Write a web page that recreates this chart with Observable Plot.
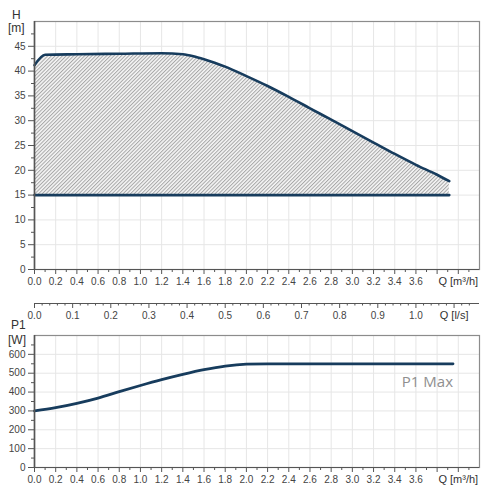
<!DOCTYPE html>
<html><head><meta charset="utf-8">
<script src="https://cdn.jsdelivr.net/npm/d3@7"></script>
<script src="https://cdn.jsdelivr.net/npm/@observablehq/plot@0.6"></script>
<style>
body{margin:0;background:#fff;font-family:"Liberation Sans",Arial,sans-serif;}
#wrap{position:relative;width:500px;height:500px;overflow:hidden;background:#fff;}
.panel{position:absolute;left:0;}
.lbl{position:absolute;font-size:12px;color:#333;line-height:1;font-family:"Liberation Sans",Arial,sans-serif;}
</style></head><body>
<div id="wrap"></div>
<script>
// ---- data ----
const headQ = [0, 0.1, 0.4, 0.8, 1.2, 1.4, 1.5, 1.6, 1.7, 1.8, 2.0, 2.2, 2.4, 2.6, 2.8, 3.0, 3.2, 3.4, 3.6, 3.8, 3.915];
const headH = [41.2, 43.3, 43.4, 43.5, 43.6, 43.4, 43.0, 42.4, 41.7, 40.9, 39.0, 37.0, 34.8, 32.5, 30.2, 27.9, 25.6, 23.3, 21.1, 19.1, 17.8];
const lowQ = [0, 3.915];
const lowH = [15, 15];
const powerQ = [0, 0.2, 0.4, 0.6, 0.8, 1.0, 1.2, 1.4, 1.6, 1.8, 2.0, 2.2, 3.95];
const powerP = [300, 317, 340, 368, 402, 435, 466, 494, 519, 538, 548, 550, 550];

const qLabelTicks = [0, 0.2, 0.4, 0.6, 0.8, 1.0, 1.2, 1.4, 1.6, 1.8, 2.0, 2.2, 2.4, 2.6, 2.8, 3.0, 3.2, 3.4, 3.6];
const qTickLabels = ["0.0","0.2","0.4","0.6","0.8","1.0","1.2","1.4","1.6","1.8","2.0","2.2","2.4","2.6","2.8","3.0","3.2","3.4","3.6"];
const qExtraTicks = [3.8, 4.0];
const qMinorTicks = [0.1, 0.3, 0.5, 0.7, 0.9, 1.1, 1.3, 1.5, 1.7, 1.9, 2.1, 2.3, 2.5, 2.7, 2.9, 3.1, 3.3, 3.5, 3.7, 3.9, 4.1];
const qUnitLabel = "Q [m³/h]";
const qUnitAt = 4.0;

const hTicks = [0, 5, 10, 15, 20, 25, 30, 35, 40, 45];
const hMinorTicks = [2.5, 7.5, 12.5, 17.5, 22.5, 27.5, 32.5, 37.5, 42.5, 47.5];

const lsTicks = [0, 0.1, 0.2, 0.3, 0.4, 0.5, 0.6, 0.7, 0.8, 0.9, 1.0];
const lsTickLabels = ["0.0","0.1","0.2","0.3","0.4","0.5","0.6","0.7","0.8","0.9","1.0"];
const lsUnitLabel = "Q [l/s]";
const lsUnitAt = 1.1;

const pTicks = [0, 100, 200, 300, 400, 500, 600];
const pMinorTicks = [50, 150, 250, 350, 450, 550, 650];
const pMaxLabel = "P1 Max";
const pMaxAt = {q: 3.95, p: 452};

// ---- build ----
const navy = "#173c5d";
const gridC = "#e6e6e6";
const axisC = "#555";
const headData = headQ.map((q, i) => ({q, h: headH[i]}));
const lowData = lowQ.map((q, i) => ({q, h: lowH[i]}));
const powerData = powerQ.map((q, i) => ({q, p: powerP[i]}));
const qLabelMap = new Map(qLabelTicks.map((t, i) => [t, qTickLabels[i]]));
const lsLabelMap = new Map(lsTicks.map((t, i) => [t, lsTickLabels[i]]));
const lsMinor = d3.range(0, 58).map(i => i * 0.02).filter(v => Math.abs(v * 10 - Math.round(v * 10)) > 1e-6);
const style = {fontFamily: "Liberation Sans, Arial, sans-serif", fontSize: "10px", color: "#444", background: "transparent", overflow: "visible"};
const gridQ = qLabelTicks.concat(qExtraTicks);

function qAxes() {
  return [
    Plot.axisX(qLabelTicks, {label: null, tickSize: 5, tickPadding: 3, stroke: axisC, tickFormat: d => qLabelMap.get(d)}),
    Plot.axisX(qExtraTicks, {label: null, tickSize: 5, stroke: axisC, tickFormat: () => ""}),
    Plot.axisX(qMinorTicks, {label: null, tickSize: 3, stroke: axisC, tickFormat: () => ""}),
    Plot.axisX([qUnitAt], {label: null, tickSize: 0, tickPadding: 8, tickFormat: () => qUnitLabel, fontSize: 11, fill: "#333"})
  ];
}

const topPlot = Plot.plot({
  width: 500, height: 290, marginLeft: 34, marginRight: 21, marginTop: 21, marginBottom: 21,
  x: {domain: [0, 4.2], label: null}, y: {domain: [0, 50], label: null}, style,
  marks: [
    Plot.gridX(gridQ, {stroke: gridC, strokeOpacity: 1}),
    Plot.gridY(hTicks, {stroke: gridC, strokeOpacity: 1}),
    Plot.frame({stroke: "#8c8c8c", strokeWidth: 1.2}),
    Plot.areaY(headData, {x: "q", y1: 15, y2: "h", fill: "url(#hatch)", curve: "monotone-x"}),
    Plot.line(headData, {x: "q", y: "h", stroke: navy, strokeWidth: 2.6, curve: "monotone-x"}),
    Plot.line(lowData, {x: "q", y: "h", stroke: navy, strokeWidth: 2.6}),
    Plot.ruleX([0], {stroke: axisC, strokeWidth: 1.6}),
    Plot.ruleY([0], {stroke: axisC, strokeWidth: 1.2}),
    ...qAxes(),
    Plot.axisY(hTicks, {label: null, tickSize: 6, tickPadding: 3, stroke: axisC, tickFormat: "d"}),
    Plot.axisY(hMinorTicks, {label: null, tickSize: 3, stroke: axisC, tickFormat: () => ""})
  ]
});
d3.select(topPlot).insert("defs", ":first-child").html(
  '<pattern id="hatch" patternUnits="userSpaceOnUse" width="2.6" height="2.6" patternTransform="rotate(45)">' +
  '<rect width="2.6" height="2.6" fill="#f5f5f5"/>' +
  '<line x1="0.5" y1="0" x2="0.5" y2="2.6" stroke="#a6a6a6" stroke-width="1"/></pattern>');

const lsPlot = Plot.plot({
  width: 500, height: 32, marginLeft: 34, marginRight: 21, marginTop: 2, marginBottom: 19,
  x: {domain: [0, 4.2 / 3.6], label: null}, y: {domain: [0, 1], axis: null}, style,
  marks: [
    Plot.ruleY([0], {stroke: axisC, strokeWidth: 1.2}),
    Plot.axisX(lsTicks, {label: null, tickSize: 5, tickPadding: 3, stroke: axisC, tickFormat: d => lsLabelMap.get(d)}),
    Plot.axisX(lsMinor, {label: null, tickSize: 2.5, stroke: axisC, tickFormat: () => ""}),
    Plot.axisX([lsUnitAt], {label: null, tickSize: 5, tickPadding: 3, stroke: axisC, tickFormat: () => lsUnitLabel, fontSize: 11, fill: "#333"})
  ]
});

const botPlot = Plot.plot({
  width: 500, height: 178, marginLeft: 34, marginRight: 21, marginTop: 13, marginBottom: 33,
  x: {domain: [0, 4.2], label: null}, y: {domain: [0, 700], label: null}, style,
  marks: [
    Plot.gridX(gridQ, {stroke: gridC, strokeOpacity: 1}),
    Plot.gridY(pTicks.concat([700]), {stroke: gridC, strokeOpacity: 1}),
    Plot.frame({stroke: "#8c8c8c", strokeWidth: 1.2}),
    Plot.line(powerData, {x: "q", y: "p", stroke: navy, strokeWidth: 2.8, curve: "monotone-x"}),
    Plot.text([pMaxLabel], {x: pMaxAt.q, y: pMaxAt.p, text: d => d, textAnchor: "end", fontSize: 15, fill: "#8f8f8f", fontFamily: "Open Sans"}),
    Plot.ruleX([0], {stroke: axisC, strokeWidth: 1.6}),
    Plot.ruleY([0], {stroke: axisC, strokeWidth: 1.2}),
    ...qAxes(),
    Plot.axisY(pTicks, {label: null, tickSize: 6, tickPadding: 3, stroke: axisC, tickFormat: "d"}),
    Plot.axisY(pMinorTicks, {label: null, tickSize: 3, stroke: axisC, tickFormat: () => ""})
  ]
});

const wrap = document.getElementById("wrap");
function place(el, top) { el.classList.add("panel"); el.style.top = top + "px"; wrap.appendChild(el); }
place(topPlot, 0);
place(lsPlot, 290);
place(botPlot, 322);
function label(txt, left, top, size) {
  const d = document.createElement("div");
  d.className = "lbl"; d.textContent = txt; d.style.left = left + "px"; d.style.top = top + "px";
  if (size) d.style.fontSize = size + "px";
  wrap.appendChild(d);
}
label("H", 12, 9, 12);
label("[m]", 8, 22, 12);
label("P1", 11, 319, 12);
label("[W]", 8, 334, 12);
</script>
</body></html>
